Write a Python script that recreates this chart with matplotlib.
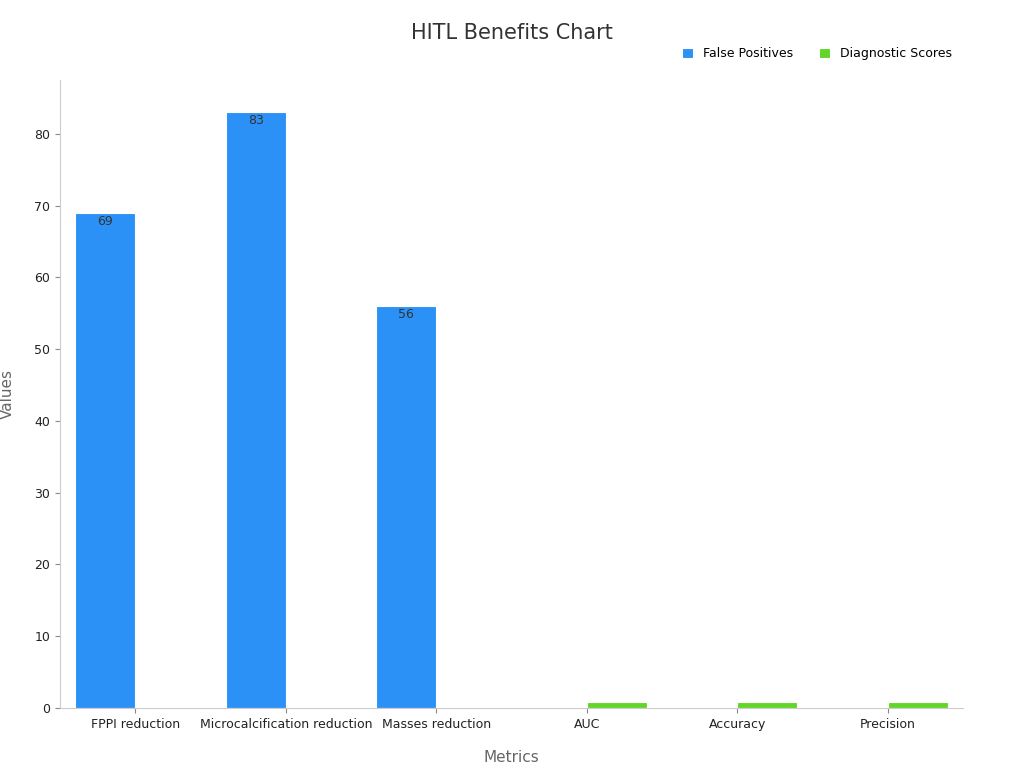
import matplotlib
matplotlib.use("Agg")
import matplotlib.pyplot as plt
import numpy as np

categories = ["FPPI reduction", "Microcalcification reduction", "Masses reduction", "AUC", "Accuracy", "Precision"]
false_positives = [69, 83, 56, 0, 0, 0]
diagnostic_scores = [0, 0, 0, 0.9, 0.85, 0.9]

fig = plt.figure(figsize=(10.24, 7.68), dpi=100)
ax = fig.add_axes([60/1024, 60/768, 903/1024, 628/768])
x = np.arange(len(categories))
w = 0.4
b1 = ax.bar(x - w/2, false_positives, w, color="#2b91f7", edgecolor="white", linewidth=0.8, label="False Positives")
b2 = ax.bar(x + w/2, diagnostic_scores, w, color="#62d628", edgecolor="white", linewidth=0.8, label="Diagnostic Scores")
for bars, vals in ((b1, false_positives), (b2, diagnostic_scores)):
    for r, v in zip(bars, vals):
        if v > 5:
            ax.text(r.get_x() + r.get_width()/2, v - 1.2, f"{v:g}", ha="center", va="center", fontsize=9, color="#333333")
ax.set_xlim(-0.5, 5.5)
ax.set_ylim(0, 87.5)
ax.set_xticks(x)
ax.set_xticklabels(categories, fontsize=9, color="#222222")
ax.set_yticks(range(0, 81, 10))
ax.tick_params(axis="y", labelsize=9, colors="#222222")
ax.tick_params(colors="#888888", labelcolor="#222222")
for s in ("top", "right"):
    ax.spines[s].set_visible(False)
for s in ("left", "bottom"):
    ax.spines[s].set_color("#cccccc")
ax.set_xlabel("Metrics", fontsize=11, color="#666666", labelpad=14)
ax.set_ylabel("Values", fontsize=11, color="#666666", labelpad=14)
fig.text(0.5, 0.957, "HITL Benefits Chart", ha="center", va="center", fontsize=15, color="#333333")
ax.legend(loc="upper right", bbox_to_anchor=(1.0, 1.07), ncol=2, frameon=False, fontsize=9,
          handlelength=0.9, handleheight=0.9, columnspacing=2.0)
fig.savefig("out.png", dpi=100)
